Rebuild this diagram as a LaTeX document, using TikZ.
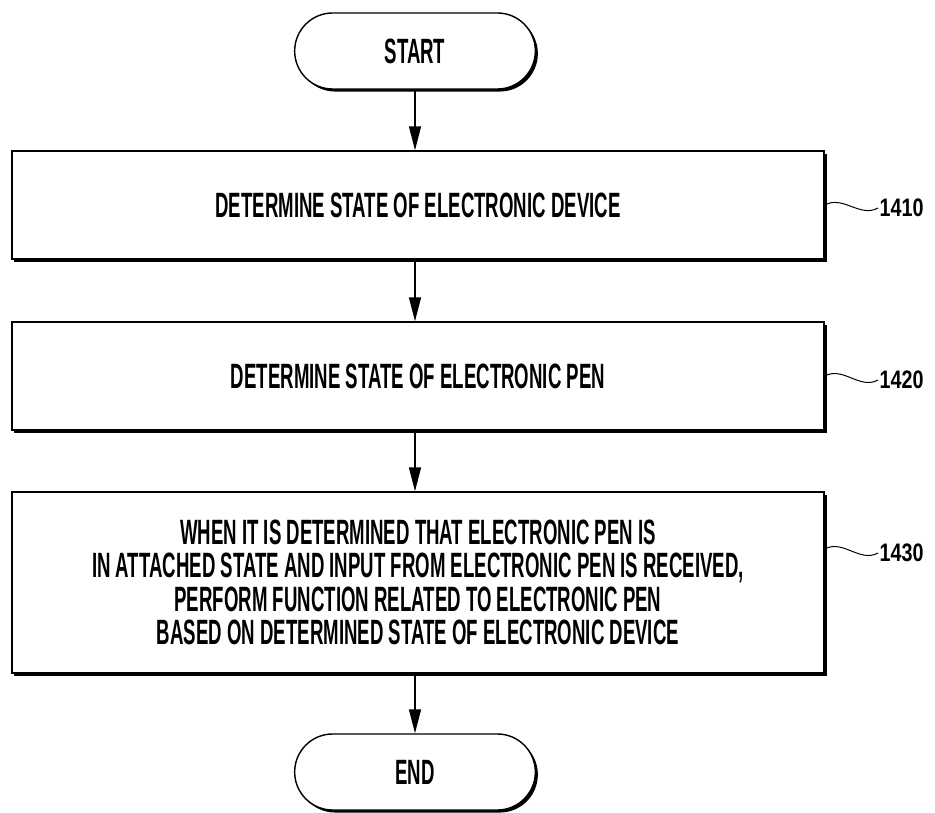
\documentclass[tikz,border=0pt]{standalone}
\usepackage{fontspec}
\newfontfamily\chartfont[FakeStretch=0.53]{Liberation Sans Bold}
\newfontfamily\refnumfont[FakeStretch=0.78]{Liberation Sans Bold}
\usetikzlibrary{shapes.misc}
\usetikzlibrary{arrows.meta}
\usetikzlibrary{shadows}

\begin{document}
\begin{tikzpicture}[x=0.025cm, y=-0.025cm, >={Triangle[length=17pt,width=8.5pt]},
    flowline/.style={line width=1pt},
    heavyshadow/.style={drop shadow={shadow xshift=1.8pt, shadow yshift=-1.8pt, opacity=1, fill=black}},
    stepbox/.style={draw, flowline, fill=white, heavyshadow, minimum width=20.3cm, align=center, font=\chartfont\fontsize{25}{23.8}\selectfont},
    terminal/.style={draw, flowline, fill=white, heavyshadow, rounded rectangle, minimum width=6.25cm, minimum height=1.9cm, font=\chartfont\fontsize{25}{23.8}\selectfont},
    refnum/.style={font=\refnumfont\fontsize{18}{18}\selectfont, inner sep=1pt}]
    \useasboundingbox (0,0) rectangle (935,813);
    % terminals and steps
    \node[terminal] (start) at (415,51) {START};
    \node[stepbox, minimum height=2.7cm] (b1410) at (418,205) {DETERMINE STATE OF ELECTRONIC DEVICE};
    \node[stepbox, minimum height=2.7cm] (b1420) at (418,376) {DETERMINE STATE OF ELECTRONIC PEN};
    \node[stepbox, minimum height=4.525cm] (b1430) at (418,582.5) {WHEN IT IS DETERMINED THAT ELECTRONIC PEN IS\\IN ATTACHED STATE AND INPUT FROM ELECTRONIC PEN IS RECEIVED,\\PERFORM FUNCTION RELATED TO ELECTRONIC PEN\\BASED ON DETERMINED STATE OF ELECTRONIC DEVICE};
    \node[terminal] (end) at (415,772) {END};
    % flow
    \draw[->, flowline] (start.south) -- (start.south |- b1410.north);
    \draw[->, flowline] (start.south |- b1410.south) -- (start.south |- b1420.north);
    \draw[->, flowline] (start.south |- b1420.south) -- (start.south |- b1430.north);
    \draw[->, flowline] (start.south |- b1430.south) -- (end.north);
    % reference numerals
    \node[refnum, anchor=west] (l1410) at (878,208) {1410};
    \node[refnum, anchor=west] (l1420) at (878,380) {1420};
    \node[refnum, anchor=west] (l1430) at (878,553) {1430};
    \draw[flowline, line width=0.7pt] (b1410.east) .. controls +(18,-10) and +(-18,10) .. (l1410.west);
    \draw[flowline, line width=0.7pt] (b1420.east) .. controls +(18,-10) and +(-18,10) .. (l1420.west);
    \draw[flowline, line width=0.7pt] (b1430.east |- l1430.west) ++(0,-4) .. controls +(18,-10) and +(-18,10) .. (l1430.west);
\end{tikzpicture}
\end{document}
